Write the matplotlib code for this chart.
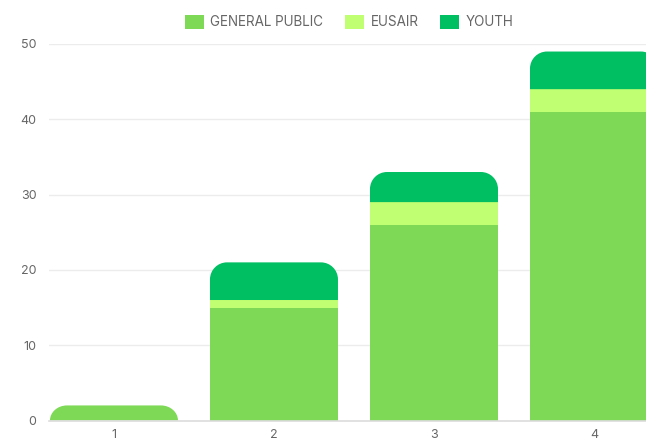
import matplotlib
matplotlib.use("Agg")
import matplotlib.pyplot as plt
from matplotlib.path import Path
from matplotlib.patches import PathPatch, Patch

categories = ["1", "2", "3", "4"]
series_names = ["GENERAL PUBLIC", "EUSAIR", "YOUTH"]
general_public = [2, 15, 26, 41]
eusair = [0, 1, 3, 3]
youth = [0, 5, 4, 5]
y_ticks = [0, 10, 20, 30, 40, 50]

colors = ["#7ED957", "#C1FF72", "#00BF63"]
series = [general_public, eusair, youth]

plt.rcParams['font.family'] = ['Inter', 'DejaVu Sans']

W, H = 646, 442
fig = plt.figure(figsize=(W / 100, H / 100), dpi=100)
left_px, right_px = 49, 646
bottom_px, top_px = 442 - 420.5, 442 - 44
ax = fig.add_axes([left_px / W, bottom_px / H, (right_px - left_px) / W, (top_px - bottom_px) / H])

x = list(range(1, len(categories) + 1))
xmin, xmax = 0.594, 4.325
ax.set_xlim(xmin, xmax)
ax.set_ylim(0, 50)
bar_w = 0.8

px_per_x = (right_px - left_px) / (xmax - xmin)
px_per_y = (top_px - bottom_px) / 50.0
r_px = 17
rx = r_px / px_per_x
ry = r_px / px_per_y
k = 0.5523


def rounded_top(x0, x1, y0, y1):
    h = y1 - y0
    ryy = min(ry, h)
    verts = [
        (x0, y0), (x0, y1 - ryy),
        (x0, y1 - ryy + k * ryy), (x0 + rx - k * rx, y1), (x0 + rx, y1),
        (x1 - rx, y1),
        (x1 - rx + k * rx, y1), (x1, y1 - ryy + k * ryy), (x1, y1 - ryy),
        (x1, y0), (x0, y0),
    ]
    codes = [Path.MOVETO, Path.LINETO,
             Path.CURVE4, Path.CURVE4, Path.CURVE4,
             Path.LINETO,
             Path.CURVE4, Path.CURVE4, Path.CURVE4,
             Path.LINETO, Path.CLOSEPOLY]
    return Path(verts, codes)


for i, xi in enumerate(x):
    vals = [s[i] for s in series]
    last = max(j for j, v in enumerate(vals) if v > 0)
    base = 0
    for j, v in enumerate(vals):
        if v <= 0:
            continue
        if j == last:
            p = PathPatch(rounded_top(xi - bar_w / 2, xi + bar_w / 2, base, base + v),
                          facecolor=colors[j], edgecolor="none", zorder=3)
            ax.add_patch(p)
        else:
            ax.bar(xi, v, bottom=base, width=bar_w, color=colors[j], zorder=3, linewidth=0)
        base += v

ax.set_yticks(y_ticks)
ax.set_xticks(x)
ax.set_xticklabels(categories)
ax.grid(axis="y", color="#ececec", linewidth=1, zorder=0)
ax.set_axisbelow(True)
for s in ["top", "right", "left"]:
    ax.spines[s].set_visible(False)
ax.spines["bottom"].set_color("#dcdcdc")
ax.spines["bottom"].set_linewidth(1.2)
ax.spines["bottom"].set_zorder(4)
ax.tick_params(axis="y", length=0, pad=9, labelsize=9, labelcolor="#666666")
ax.tick_params(axis="x", length=0, pad=6, labelsize=9, labelcolor="#666666")

handles = [Patch(facecolor=c, edgecolor="none") for c in colors]
fig.legend(handles, series_names, loc="center", bbox_to_anchor=(349 / W, 1 - 22 / H),
           ncol=3, frameon=False, fontsize=9.7, labelcolor="#666666",
           handlelength=1.4, handleheight=1.25, handletextpad=0.5, columnspacing=1.6)

fig.savefig("out.png", dpi=100)
